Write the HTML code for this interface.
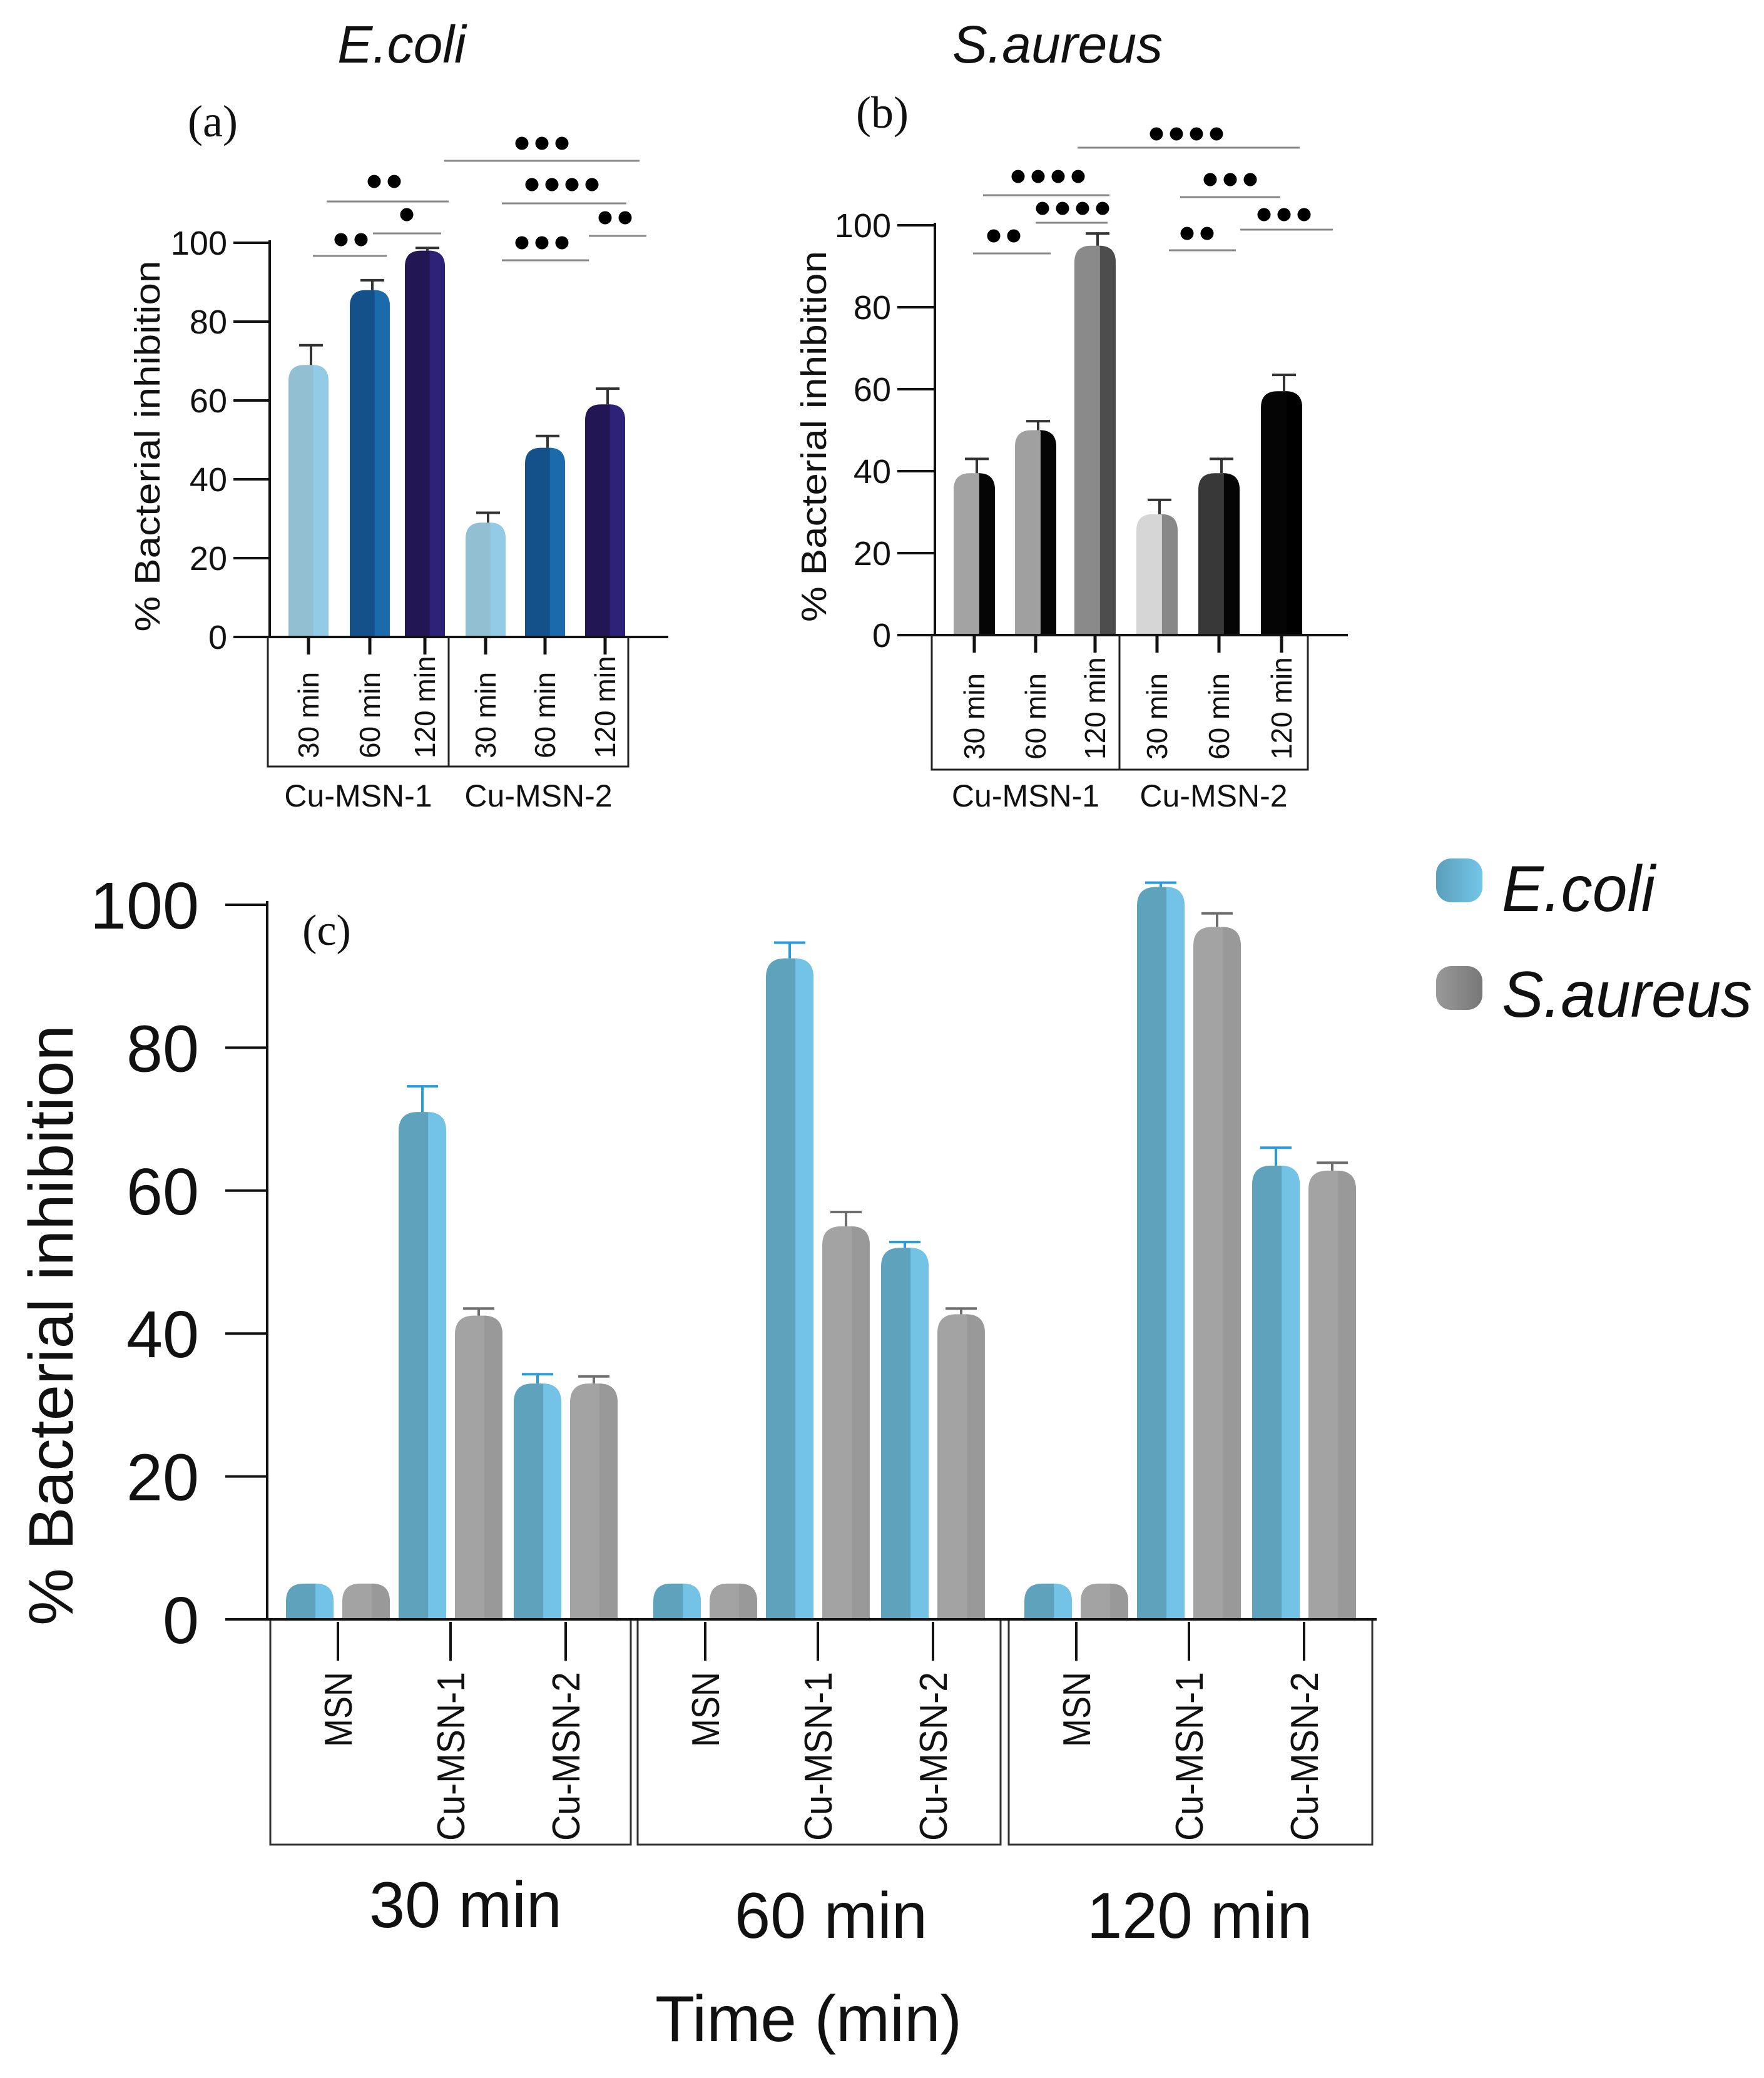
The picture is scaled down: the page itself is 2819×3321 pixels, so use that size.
<!DOCTYPE html>
<html><head><meta charset="utf-8"><style>
html,body{margin:0;padding:0;background:#fff}
svg{display:block}
text{font-family:"Liberation Sans",sans-serif;fill:#111}
</style></head><body>
<svg id="fig" width="2819" height="3321" viewBox="0 0 2819 3321" xmlns="http://www.w3.org/2000/svg">
<defs>
<linearGradient id="swE" x1="0" x2="1"><stop offset="0" stop-color="#5a9fba"/><stop offset="1" stop-color="#74c6ea"/></linearGradient>
<linearGradient id="swS" x1="0" x2="1"><stop offset="0" stop-color="#999"/><stop offset="1" stop-color="#777"/></linearGradient>
</defs>
<text x="642" y="100" font-size="84" font-style="italic" text-anchor="middle">E.coli</text>
<text x="1690" y="100" font-size="84" font-style="italic" text-anchor="middle">S.aureus</text>
<text x="340" y="218" font-size="72" text-anchor="middle" style="font-family:'Liberation Serif',serif">(a)</text>
<text x="1410" y="204" font-size="72" text-anchor="middle" style="font-family:'Liberation Serif',serif">(b)</text>
<text x="522" y="1510" font-size="70" text-anchor="middle" style="font-family:'Liberation Serif',serif">(c)</text>
<g id="root"></g>
</svg>
<script>
// ---- Panel (a) E.coli ----
const aCats = ["30 min","60 min","120 min","30 min","60 min","120 min"];
const aVals = [69, 88, 98, 29, 48, 59];
const aErr = [5, 2.5, 0.7, 2.5, 3, 4];
const aGroups = ["Cu-MSN-1","Cu-MSN-2"];
// ---- Panel (b) S.aureus ----
const bCats = ["30 min","60 min","120 min","30 min","60 min","120 min"];
const bVals = [39.5, 50, 95, 29.5, 39.5, 59.5];
const bErr = [3.5, 2.2, 3, 3.5, 3.5, 4];
// ---- Panel (c) ----
const cGroups = ["30 min","60 min","120 min"];
const cCats = ["MSN","Cu-MSN-1","Cu-MSN-2"];
const cEcoli = [5, 71, 33, 5, 92.5, 52, 5, 102.5, 63.5];
const cEcoliErr = [0, 3.6, 1.3, 0, 2.2, 0.8, 0, 0.6, 2.5];
const cSaureus = [5, 42.5, 33, 5, 55, 42.7, 5, 96.9, 62.8];
const cSaureusErr = [0, 1, 1, 0, 2, 0.8, 0, 1.9, 1.1];
const yTicks = [0, 20, 40, 60, 80, 100];

const NS = "http://www.w3.org/2000/svg";
const root = document.getElementById('root');
function mk(tag, attrs, parent){ const e=document.createElementNS(NS,tag); for(const k in attrs) e.setAttribute(k,attrs[k]); (parent||root).appendChild(e); return e; }
function txt(s, attrs, parent){ const e=mk('text',attrs,parent); e.textContent=s; return e; }

function barPath(cx,w,y0,yt){ const r=Math.min(w*0.4,(y0-yt)/2); const l=cx-w/2, rr=cx+w/2;
  return `M${l},${y0} L${l},${yt+r} Q${l},${yt} ${l+r},${yt} L${rr-r},${yt} Q${rr},${yt} ${rr},${yt+r} L${rr},${y0} Z`; }
function drawBar(g,cx,w,y0,yt,main,side,name){
  const p=mk('path',{d:barPath(cx,w,y0,yt),fill:main},g);
  
  
  const sw=w*0.38; const r=Math.min(w*0.4,(y0-yt)/2);
  const s=mk('path',{d:`M${cx+w/2-sw},${y0} L${cx+w/2-sw},${yt+2} L${cx+w/2-r},${yt} Q${cx+w/2},${yt} ${cx+w/2},${yt+r} L${cx+w/2},${y0} Z`,fill:side},g);
  
  
}
function errBar(g,cx,yt,ye,col,cap,sw,name){
  if(Math.abs(ye-yt)<1) return;
  const e=mk('path',{d:`M${cx},${yt} L${cx},${ye} M${cx-cap/2},${ye} L${cx+cap/2},${ye}`,stroke:col,'stroke-width':sw,fill:'none'},g);
  
  
}

function smallPanel(cfg){
  const g=mk('g',{});
  
  
  const y=v=>cfg.y0-v*(cfg.y0-cfg.y100)/100;
  yTicks.forEach(v=>{
    const t=mk('line',{x1:cfg.tickL,x2:cfg.ax,y1:y(v),y2:y(v),stroke:'#111','stroke-width':4},g);
    
    
    const l=txt(String(v),{x:cfg.tickL-10,y:y(v)+19,'font-size':54,'text-anchor':'end'},g);
    
    
  });
  const at=txt("% Bacterial inhibition",{x:0,y:0,'font-size':57,'text-anchor':'middle',textLength:593,lengthAdjust:'spacingAndGlyphs',transform:`translate(${cfg.titleX},${(cfg.y0+cfg.y100)/2+10}) rotate(-90)`},g);
  
  
  cfg.vals.forEach((v,i)=>{
    const cx=cfg.xs[i];
    drawBar(g,cx,cfg.bw,cfg.y0,y(v),cfg.main[i],cfg.side[i],'bar-'+i);
    errBar(g,cx+4,y(v),y(v+cfg.err[i]),'#333',38,4,'error-bar-'+i);
    const tk=mk('line',{x1:cx,x2:cx,y1:cfg.y0,y2:cfg.y0+28,stroke:'#111','stroke-width':5},g);
    
    
    const lb=txt(cfg.cats[i],{x:0,y:0,'font-size':46,'text-anchor':'start',transform:`translate(${cx+16},${cfg.labBottom}) rotate(-90)`},g);
    
    
  });
  const ya=mk('line',{x1:cfg.ax,x2:cfg.ax,y1:cfg.y100-4,y2:cfg.y0,stroke:'#111','stroke-width':4},g);
  
  
  const xa=mk('line',{x1:cfg.tickL,x2:cfg.xEnd,y1:cfg.y0,y2:cfg.y0,stroke:'#111','stroke-width':4},g);
  
  
  const bx=mk('path',{d:`M${cfg.boxL},${cfg.y0} L${cfg.boxL},${cfg.boxB} L${cfg.boxR},${cfg.boxB} L${cfg.boxR},${cfg.y0} M${cfg.boxM},${cfg.y0} L${cfg.boxM},${cfg.boxB}`,stroke:'#222','stroke-width':3,fill:'none'},g);
  
  
  aGroups.forEach((s,i)=>{
    const cxg=i===0?(cfg.boxL+cfg.boxM)/2:(cfg.boxM+cfg.boxR)/2;
    const gl=txt(s,{x:cxg,y:1289,'font-size':50,'text-anchor':'middle'},g);
    
    
  });
  cfg.sig.forEach(s=>{
    const ln=mk('line',{x1:s[0],x2:s[1],y1:s[2],y2:s[2],stroke:'#888','stroke-width':3},g);
    
    
    const n=s[5]; for(let k=0;k<n;k++){
      const d=mk('circle',{cx:s[3]+(k-(n-1)/2)*32,cy:s[4],r:10.5,fill:'#000'},g);
      
      
    }
  });
}
smallPanel({name:'panel-a',vals:aVals,err:aErr,cats:aCats,y0:1018,y100:388,ax:431,tickL:373,xEnd:1068,titleX:255,
  xs:[493,591,679,776,871,967],bw:64,labBottom:1212,boxL:428,boxM:717,boxR:1004,boxB:1225,
  main:['#93bfd3','#14508a','#231654','#93bfd3','#14508a','#231654'],side:['#92cbe6','#1a6aac','#2d2278','#92cbe6','#1a6aac','#2d2278'],
  sig:[[500,618,409,561,383,2],[596,705,373,650,343,1],[522,717,322,614,290,2],[802,941,416,866,388,3],[941,1033,377,983,348,2],[802,1001,325,898,295,4],[710,1022,257,866,229,3]]});
smallPanel({name:'panel-b',vals:bVals,err:bErr,cats:bCats,y0:1015,y100:360,ax:1494,tickL:1434,xEnd:2154,titleX:1320,
  xs:[1557,1655,1750,1849,1948,2048],bw:66,labBottom:1214,boxL:1489,boxM:1789,boxR:2090,boxB:1230,
  main:['#a3a3a3','#a0a0a0','#8a8a8a','#d6d6d6','#383838','#050505'],side:['#050505','#050505','#4d4d4d','#888888','#050505','#000000'],
  sig:[[1555,1679,405,1604,377,2],[1655,1770,356,1714,333,4],[1571,1773,312,1675,282,4],[1868,1975,400,1913,373,2],[1982,2130,367,2052,343,3],[1886,2046,315,1966,287,3],[1722,2077,236,1896,214,4]]});

(function(){
  const g=mk('g',{});
  
  
  const y0=2588, y100=1446; const y=v=>y0-v*(y0-y100)/100;
  const groupX=[432,1019,1612]; const groupW=[576,580,581];
  const offs=[63,153,243,333,427,517]; const bw=76;
  yTicks.forEach(v=>{
    const t=mk('line',{x1:360,x2:427,y1:y(v),y2:y(v),stroke:'#111','stroke-width':4},g);
    
    
    const l=txt(String(v),{x:318,y:y(v)+38,'font-size':106,'text-anchor':'end',textLength:String(v).length*58,lengthAdjust:'spacingAndGlyphs'},g);
    
    
  });
  const at=txt("% Bacterial inhibition",{x:0,y:0,'font-size':100,'text-anchor':'middle',textLength:960,lengthAdjust:'spacingAndGlyphs',transform:`translate(116,2118) rotate(-90)`},g);
  
  
  cGroups.forEach((gn,gi)=>{
    const gx=groupX[gi];
    cCats.forEach((cn,ci)=>{
      const i=gi*3+ci;
      const ex=gx+offs[ci*2], sx=gx+offs[ci*2+1];
      drawBar(g,ex,bw,y0,y(cEcoli[i]),'#5ea2bc','#72c3e6','bar-ecoli-'+i);
      drawBar(g,sx,bw,y0,y(cSaureus[i]),'#a3a3a3','#999999','bar-saureus-'+i);
      errBar(g,ex,y(cEcoli[i]),y(cEcoli[i]+cEcoliErr[i]),'#2b9ad8',50,4,'error-bar-ecoli-'+i);
      errBar(g,sx,y(cSaureus[i]),y(cSaureus[i]+cSaureusErr[i]),'#6e6e6e',50,4,'error-bar-saureus-'+i);
      const tx=(ex+sx)/2;
      const tk=mk('line',{x1:tx,x2:tx,y1:y0+4,y2:y0+66,stroke:'#111','stroke-width':4},g);
      
      
      const lb=txt(cn,{x:0,y:0,'font-size':62,'text-anchor':'end',textLength:cn==='MSN'?120:270,lengthAdjust:'spacingAndGlyphs',transform:`translate(${tx+22},${2672}) rotate(-90)`},g);
      
      
    });
    const bx=mk('rect',{x:gx,y:y0,width:groupW[gi],height:360,fill:'none',stroke:'#333','stroke-width':3},g);
    
    
    const gl=txt(gn,{x:[744,1328,1917][gi],y:[3080,3097,3097][gi],'font-size':104,'text-anchor':'middle',textLength:gn.length===6?308:360,lengthAdjust:'spacingAndGlyphs'},g);
    
    
  });
  const ya=mk('line',{x1:427,x2:427,y1:y100-6,y2:y0,stroke:'#111','stroke-width':4},g);
  
  
  const xa=mk('line',{x1:360,x2:2200,y1:y0,y2:y0,stroke:'#111','stroke-width':4},g);
  
  
  const xt=txt("Time (min)",{x:1292,y:3262,'font-size':104,'text-anchor':'middle',textLength:490,lengthAdjust:'spacingAndGlyphs'},g);
  
  
  const lg=mk('g',{},g);
  
  
  [['E.coli','url(#swE)',1408,1456],['S.aureus','url(#swS)',1580,1625]].forEach(e=>{
    const sw=mk('rect',{x:2295,y:e[2]-36,width:74,height:70,rx:24,fill:e[1]},lg);
    
    
    const t=txt(e[0],{x:2400,y:e[3],'font-size':104,'font-style':'italic',textLength:e[0]==='E.coli'?245:400,lengthAdjust:'spacingAndGlyphs'},lg);
    
    
  });
})();
</script>
</body></html>
